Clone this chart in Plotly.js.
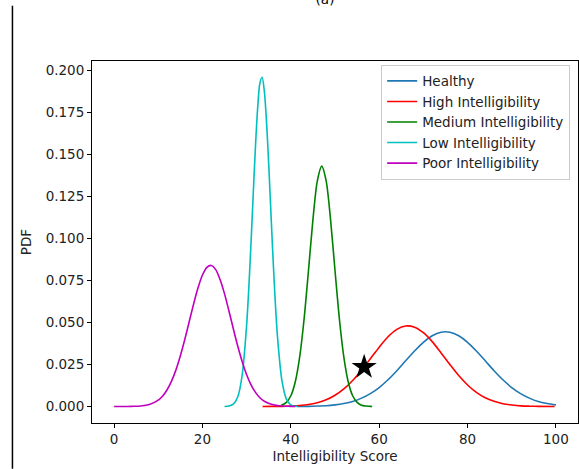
<!DOCTYPE html>
<html>
<head>
<meta charset="utf-8">
<script src="https://cdn.plot.ly/plotly-3.0.1.min.js"></script>
<style>html,body{margin:0;padding:0;background:#fff;}#chart{width:579px;height:469px;}</style>
</head>
<body>
<div id="chart"></div>
<script>
// Healthy
const healthyX = [41.5,44,46,48,50,52,54,56,58,60,62,64,66,68,70,72,74,76,78,80,82,84,86,88,90,92,94,96,98,100];
const healthyY = [0.0000,0.0001,0.0003,0.0005,0.0010,0.0018,0.0030,0.0050,0.0077,0.0113,0.0159,0.0213,0.0272,0.0330,0.0382,0.0421,0.0442,0.0442,0.0421,0.0382,0.0330,0.0272,0.0213,0.0159,0.0113,0.0077,0.0050,0.0030,0.0018,0.0010];
// High Intelligibility
const highX = [33.6,36,38,40,42,44,46,48,50,52,54,56,58,60,62,64,66,68,70,72,74,76,78,80,82,84,86,88,90,92,94,96,99.7];
const highY = [0.0000,0.0001,0.0001,0.0003,0.0006,0.0012,0.0023,0.0040,0.0067,0.0105,0.0155,0.0216,0.0284,0.0353,0.0415,0.0459,0.0479,0.0472,0.0439,0.0386,0.0319,0.0250,0.0184,0.0128,0.0084,0.0052,0.0031,0.0017,0.0009,0.0004,0.0002,0.0001,0.0000];
// Medium Intelligibility
const mediumX = [37.8,39,40,41,42,43,44,45,46,47,48,49,50,51,52,53,54,55,56,57,58,58.4];
const mediumY = [0.0006,0.0025,0.0064,0.0146,0.0294,0.0519,0.0809,0.1110,0.1342,0.1430,0.1342,0.1110,0.0809,0.0519,0.0294,0.0146,0.0064,0.0025,0.0008,0.0003,0.0001,0.0000];
// Low Intelligibility
const lowX = [25,26,27,28,29,30,30.5,31,31.5,32,32.5,33,33.5,34,34.5,35,35.5,36,36.5,37,38,39,40,41,41.5];
const lowY = [0.0000,0.0003,0.0014,0.0058,0.0189,0.0485,0.0710,0.0977,0.1267,0.1547,0.1777,0.1923,0.1958,0.1877,0.1693,0.1439,0.1150,0.0867,0.0614,0.0410,0.0152,0.0044,0.0010,0.0002,0.0001];
// Poor Intelligibility
const poorX = [0,2,4,6,8,10,11,12,13,14,15,16,17,18,19,20,21,22,23,24,25,26,27,28,29,30,31,32,33,34,36,38,40,41];
const poorY = [0.0000,0.0000,0.0001,0.0003,0.0012,0.0038,0.0063,0.0100,0.0151,0.0218,0.0302,0.0399,0.0504,0.0610,0.0706,0.0782,0.0828,0.0839,0.0814,0.0754,0.0670,0.0568,0.0461,0.0358,0.0266,0.0189,0.0129,0.0084,0.0052,0.0031,0.0010,0.0003,0.0001,0.0000];
// Marked point
const starX = [56.6];
const starY = [0.0235];

const names = ['Healthy','High Intelligibility','Medium Intelligibility','Low Intelligibility','Poor Intelligibility'];
const colors = ['#1f77b4','#ff0000','#008000','#00bfbf','#bf00bf'];
const xs = [healthyX, highX, mediumX, lowX, poorX];
const ys = [healthyY, highY, mediumY, lowY, poorY];

const font = 'DejaVu Sans, sans-serif';
const traces = xs.map((x,i)=>({
  x: x, y: ys[i], type:'scatter', mode:'lines', name: names[i],
  line:{color: colors[i], width:1.6, shape:'spline', smoothing:0.8}
}));
traces.push({x: starX, y: starY, type:'scatter', mode:'markers', showlegend:false,
  marker:{symbol:'star', size:19, color:'#000000'}});

const axBase = {
  showgrid:false, zeroline:false, showline:true, mirror:true,
  linecolor:'#000000', linewidth:1, ticks:'outside', ticklen:4, tickwidth:1,
  tickcolor:'#000000', tickfont:{family:font, size:13.5, color:'#222'}
};

const layout = {
  width:579, height:469,
  margin:{l:92, r:1.3, t:61.3, b:45.7},
  paper_bgcolor:'#ffffff', plot_bgcolor:'#ffffff',
  showlegend:true,
  title:{text:'(a)', font:{family:font, size:13.5, color:'#000'}, xref:'container', yref:'container', x:325/579, xanchor:'center', y:1-4/469, yanchor:'bottom'},
  xaxis: Object.assign({}, axBase, {range:[-5,105], tickvals:[0,20,40,60,80,100], ticktext:['0','20','40','60','80','100'],
    title:{text:'Intelligibility Score', font:{family:font, size:13.5, color:'#222'}, standoff:5}}),
  yaxis: Object.assign({}, axBase, {range:[-0.0098,0.2055], tickvals:[0,0.025,0.05,0.075,0.1,0.125,0.15,0.175,0.2], tickformat:'.3f',
    title:{text:'PDF', font:{family:font, size:13.5, color:'#222'}, standoff:10}}),
  legend:{x:0.595, y:0.99, xanchor:'left', yanchor:'top', bgcolor:'rgba(255,255,255,0.8)', bordercolor:'#cccccc', borderwidth:1,
    font:{family:font, size:13.5, color:'#222'}, itemwidth:30, tracegroupgap:0},
  shapes:[{type:'line', xref:'paper', yref:'paper', x0:(12.5-92)/485.7, x1:(12.5-92)/485.7, y0:(423.3-469)/362, y1:(423.3-6)/362,
    line:{color:'#000000', width:1.5}}]
};

Plotly.newPlot('chart', traces, layout, {displayModeBar:false, staticPlot:true});
</script>
</body>
</html>
